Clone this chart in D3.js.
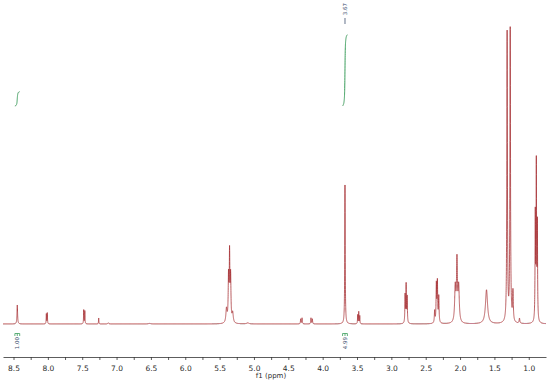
<!DOCTYPE html>
<html>
<head>
<meta charset="utf-8">
<script src="https://cdn.jsdelivr.net/npm/d3@7"></script>
<style>
  body { margin: 0; background: #fff; }
  svg { display: block; font-family: "DejaVu Sans", sans-serif; }
</style>
</head>
<body>
<div id="container"></div>
<script>
/* CONSTANTS AND GLOBALS */
const width = 550,
  height = 381;

// peak list: shift (ppm), relative intensity, half width (ppm)
const peakPpm = [8.445, 8.022, 8.008, 7.478, 7.462, 7.26, 7.12, 6.52,
  5.40, 5.37, 5.355, 5.34, 5.31, 5.09,
  4.32, 4.30, 4.17, 4.15, 3.675, 3.49, 3.475, 3.46,
  2.80, 2.785, 2.77, 2.37, 2.345, 2.33, 2.31,
  2.07, 2.045, 2.02, 1.615, 1.315, 1.27, 1.23, 1.135,
  0.905, 0.89, 0.875];
const peakHeight = [19, 10, 11, 14, 13, 6, 1.2, 0.6,
  14, 45, 65, 45, 10, 1,
  5, 6, 6, 5, 139, 9, 12, 8,
  28, 38, 26, 12, 38, 40, 26,
  35, 60, 35, 34, 290, 293, 30, 5,
  105, 155, 95];
const peakWidth = [0.005, 0.003, 0.003, 0.003, 0.003, 0.003, 0.008, 0.02,
  0.01, 0.006, 0.005, 0.006, 0.01, 0.02,
  0.004, 0.004, 0.004, 0.004, 0.004, 0.003, 0.003, 0.003,
  0.004, 0.004, 0.004, 0.005, 0.005, 0.005, 0.005,
  0.01, 0.008, 0.01, 0.018, 0.005, 0.005, 0.006, 0.006,
  0.004, 0.004, 0.004];

// integrals: ranges (ppm) and values
const integralFrom = [8.48, 3.71];
const integralTo = [8.41, 3.64];
const integralValue = [1.00, 4.99];

// peak pick labels
const pickPpm = [3.675];
const pickLabel = ["3.67"];

const tickValues = d3.range(0, 31).map(i => 1.0 + i * 0.25);

/* SCALES */
const xScale = d3.scaleLinear().domain([8.653, 0.749]).range([3, 546]);
const yScale = d3.scaleLinear().domain([0, 300]).range([324, 24]);

function intensity(ppm) {
  let s = 0;
  for (let i = 0; i < peakPpm.length; i++) {
    const d = (ppm - peakPpm[i]) / peakWidth[i];
    s += peakHeight[i] / (1 + d * d);
  }
  return s;
}

// sample the spectrum across the window
const spectrum = [];
for (let p = 8.653; p >= 0.749; p -= 0.0005) {
  spectrum.push({ppm: p, v: intensity(p)});
}

const svg = d3.select("#container")
  .append("svg")
  .attr("width", width)
  .attr("height", height);

const line = d3.line()
  .x(d => xScale(d.ppm))
  .y(d => yScale(d.v));

svg.append("path")
  .datum(spectrum)
  .attr("fill", "none")
  .attr("stroke", "#a3282c")
  .attr("stroke-width", 0.75)
  .attr("d", line);

/* INTEGRALS */
const pxPerUnit = 14.3;
const integralBase = 106;
integralFrom.forEach((from, k) => {
  const pts = [];
  let acc = 0;
  for (let p = from; p >= integralTo[k]; p -= 0.0005) {
    acc += intensity(p);
    pts.push({ppm: p, a: acc});
  }
  const total = acc;
  const iy = d3.scaleLinear().domain([0, total])
    .range([integralBase, integralBase - integralValue[k] * pxPerUnit]);
  svg.append("path")
    .datum(pts)
    .attr("fill", "none")
    .attr("stroke", "#3a9d5b")
    .attr("stroke-width", 1)
    .attr("d", d3.line().x(d => xScale(d.ppm)).y(d => iy(d.a)));

  const x0 = xScale(from), x1 = xScale(integralTo[k]);
  svg.append("path")
    .attr("fill", "none")
    .attr("stroke", "#3a9d5b")
    .attr("stroke-width", 0.8)
    .attr("d", `M${x0},336V333.5H${x1}V336M${(x0 + x1) / 2},333.5V336`);
  const cx = (x0 + x1) / 2;
  svg.append("text")
    .attr("transform", `translate(${cx + 2},337) rotate(-90)`)
    .attr("text-anchor", "end")
    .attr("font-size", 5.5)
    .attr("fill", "#3d4f6e")
    .text(integralValue[k].toFixed(2));
});

/* PEAK LABELS */
pickPpm.forEach((p, k) => {
  const x = xScale(p);
  svg.append("text")
    .attr("transform", `translate(${x + 2},3) rotate(-90)`)
    .attr("text-anchor", "end")
    .attr("font-size", 5.5)
    .attr("fill", "#3d4f6e")
    .text(pickLabel[k]);
  svg.append("line")
    .attr("x1", x).attr("x2", x)
    .attr("y1", 18).attr("y2", 24)
    .attr("stroke", "#3d4f6e")
    .attr("stroke-width", 0.8);
});

/* AXIS */
const xAxis = d3.axisBottom(xScale)
  .tickValues(tickValues)
  .tickSize(3)
  .tickSizeOuter(0)
  .tickFormat(d => (Math.round(d * 4) % 2 === 0) ? d.toFixed(1) : "");

const gx = svg.append("g")
  .attr("transform", "translate(0,357)")
  .call(xAxis);
gx.select(".domain").attr("stroke", "#333").attr("stroke-width", 0.8);
gx.selectAll(".tick line").attr("stroke", "#333").attr("stroke-width", 0.8);
gx.selectAll(".tick text")
  .attr("font-size", 7.5)
  .attr("font-family", "DejaVu Sans, sans-serif")
  .attr("fill", "#2b2b2b")
  .attr("dy", "1.0em");

svg.append("text")
  .attr("x", 271)
  .attr("y", 378)
  .attr("text-anchor", "middle")
  .attr("font-size", 7)
  .attr("fill", "#2b2b2b")
  .text("f1 (ppm)");
</script>
</body>
</html>
